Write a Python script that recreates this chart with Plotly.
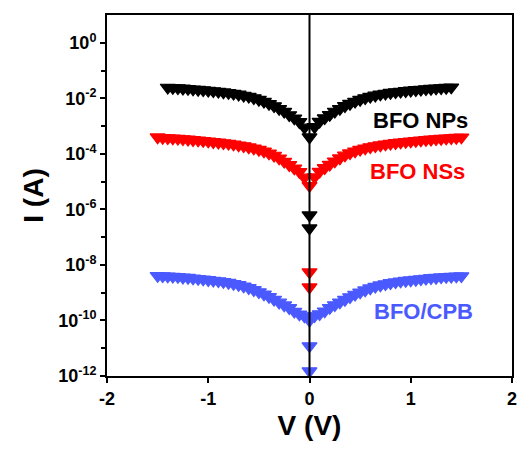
import plotly.graph_objects as go

# ---------------- data ----------------
V_np = [-1.40, -1.35, -1.30, -1.25, -1.20, -1.15, -1.10, -1.05, -1.00, -0.95,
        -0.90, -0.85, -0.80, -0.75, -0.70, -0.65, -0.60, -0.55, -0.50, -0.45,
        -0.40, -0.35, -0.30, -0.25, -0.20, -0.15, -0.10, -0.05, 0.00,
        0.05, 0.10, 0.15, 0.20, 0.25, 0.30, 0.35, 0.40, 0.45, 0.50,
        0.55, 0.60, 0.65, 0.70, 0.75, 0.80, 0.85, 0.90, 0.95, 1.00,
        1.05, 1.10, 1.15, 1.20, 1.25, 1.30, 1.35, 1.40,
        0.00, 0.00]
I_np = [2.45e-2, 2.38e-2, 2.34e-2, 2.27e-2, 2.19e-2, 2.12e-2, 2.05e-2, 1.98e-2, 1.90e-2, 1.82e-2,
        1.74e-2, 1.66e-2, 1.58e-2, 1.48e-2, 1.38e-2, 1.26e-2, 1.15e-2, 1.02e-2, 8.91e-3, 7.59e-3,
        6.31e-3, 5.25e-3, 4.17e-3, 3.31e-3, 2.51e-3, 1.91e-3, 1.41e-3, 8.91e-4, 3.98e-4,
        9.30e-4, 1.45e-3, 1.95e-3, 2.55e-3, 3.35e-3, 4.20e-3, 5.30e-3, 6.40e-3, 7.60e-3, 8.90e-3,
        1.02e-2, 1.15e-2, 1.27e-2, 1.39e-2, 1.49e-2, 1.59e-2, 1.68e-2, 1.76e-2, 1.84e-2, 1.92e-2,
        2.00e-2, 2.07e-2, 2.15e-2, 2.22e-2, 2.29e-2, 2.35e-2, 2.41e-2, 2.48e-2,
        6.2e-7, 2.1e-7]

V_ns = [-1.50, -1.45, -1.40, -1.35, -1.30, -1.25, -1.20, -1.15, -1.10, -1.05,
        -1.00, -0.95, -0.90, -0.85, -0.80, -0.75, -0.70, -0.65, -0.60, -0.55,
        -0.50, -0.45, -0.40, -0.35, -0.30, -0.25, -0.20, -0.15, -0.10, -0.05, 0.00,
        0.05, 0.10, 0.15, 0.20, 0.25, 0.30, 0.35, 0.40, 0.45, 0.50,
        0.55, 0.60, 0.65, 0.70, 0.75, 0.80, 0.85, 0.90, 0.95, 1.00,
        1.05, 1.10, 1.15, 1.20, 1.25, 1.30, 1.35, 1.40, 1.45, 1.50,
        0.00, 0.00]
I_ns = [3.98e-4, 3.80e-4, 3.72e-4, 3.63e-4, 3.55e-4, 3.39e-4, 3.31e-4, 3.16e-4, 3.09e-4, 2.95e-4,
        2.82e-4, 2.69e-4, 2.57e-4, 2.45e-4, 2.34e-4, 2.19e-4, 2.04e-4, 1.91e-4, 1.74e-4, 1.58e-4,
        1.41e-4, 1.23e-4, 1.05e-4, 8.71e-5, 6.92e-5, 5.25e-5, 3.98e-5, 3.02e-5, 2.24e-5, 1.41e-5, 7.08e-6,
        1.45e-5, 2.30e-5, 3.10e-5, 4.10e-5, 5.40e-5, 7.00e-5, 8.80e-5, 1.06e-4, 1.24e-4, 1.42e-4,
        1.59e-4, 1.75e-4, 1.91e-4, 2.05e-4, 2.20e-4, 2.35e-4, 2.47e-4, 2.59e-4, 2.71e-4, 2.83e-4,
        2.96e-4, 3.09e-4, 3.18e-4, 3.31e-4, 3.40e-4, 3.52e-4, 3.62e-4, 3.72e-4, 3.81e-4, 3.95e-4,
        5.5e-9, 1.58e-9]

V_cpb = [-1.50, -1.45, -1.40, -1.35, -1.30, -1.25, -1.20, -1.15, -1.10, -1.05,
         -1.00, -0.95, -0.90, -0.85, -0.80, -0.75, -0.70, -0.65, -0.60, -0.55,
         -0.50, -0.45, -0.40, -0.35, -0.30, -0.25, -0.20, -0.15, -0.10, -0.05, 0.00,
         0.05, 0.10, 0.15, 0.20, 0.25, 0.30, 0.35, 0.40, 0.45, 0.50,
         0.55, 0.60, 0.65, 0.70, 0.75, 0.80, 0.85, 0.90, 0.95, 1.00,
         1.05, 1.10, 1.15, 1.20, 1.25, 1.30, 1.35, 1.40, 1.45, 1.50,
         0.00, 0.00]
I_cpb = [4.07e-9, 3.98e-9, 3.89e-9, 3.80e-9, 3.72e-9, 3.55e-9, 3.47e-9, 3.31e-9, 3.16e-9, 3.02e-9,
         2.88e-9, 2.75e-9, 2.63e-9, 2.45e-9, 2.29e-9, 2.09e-9, 1.91e-9, 1.70e-9, 1.48e-9, 1.26e-9,
         1.05e-9, 8.71e-10, 7.08e-10, 5.62e-10, 4.47e-10, 3.55e-10, 2.82e-10, 2.09e-10, 1.66e-10, 1.41e-10, 1.00e-10,
         1.45e-10, 1.70e-10, 2.15e-10, 2.85e-10, 3.60e-10, 4.50e-10, 5.60e-10, 7.00e-10, 8.60e-10, 1.03e-9,
         1.23e-9, 1.45e-9, 1.66e-9, 1.86e-9, 2.04e-9, 2.24e-9, 2.40e-9, 2.57e-9, 2.70e-9, 2.82e-9,
         2.95e-9, 3.09e-9, 3.24e-9, 3.39e-9, 3.47e-9, 3.63e-9, 3.72e-9, 3.80e-9, 3.89e-9, 3.98e-9,
         1.2e-11, 1.5e-12]

series_names = ["BFO NPs", "BFO NSs", "BFO/CPB"]
series_colors = ["#000000", "#FF0000", "#4A5AFF"]

x_ticks = [-2, -1, 0, 1, 2]
y_tickvals = [1e-12, 1e-10, 1e-8, 1e-6, 1e-4, 1e-2, 1e0]
y_ticktext = ["10<sup>-12</sup>", "10<sup>-10</sup>", "10<sup>-8</sup>",
              "10<sup>-6</sup>", "10<sup>-4</sup>", "10<sup>-2</sup>", "10<sup>0</sup>"]
y_minorvals = [1e-11, 1e-9, 1e-7, 1e-5, 1e-3, 1e-1]

# label anchor positions (V, log10 I)
label_x = [1.10, 1.07, 1.13]
label_y = [-2.80, -4.65, -9.68]

FONT = "Arial, 'Liberation Sans', sans-serif"

fig = go.Figure()
for V, I, name, col in zip([V_np, V_ns, V_cpb], [I_np, I_ns, I_cpb], series_names, series_colors):
    fig.add_trace(go.Scatter(
        x=V, y=I, mode="markers", name=name,
        marker=dict(symbol="triangle-down", size=13, color=col,
                    line=dict(color=col, width=1.2)),
        showlegend=False))

fig.add_vline(x=0, line=dict(color="black", width=2))

for name, col, lx, ly in zip(series_names, series_colors, label_x, label_y):
    fig.add_annotation(x=lx, y=ly, xref="x", yref="y", text=name, showarrow=False,
                       font=dict(family=FONT, size=22, color=col, weight="bold"))

fig.update_layout(
    width=526, height=454,
    margin=dict(l=107, r=9, t=15, b=78),
    paper_bgcolor="white", plot_bgcolor="white",
    font=dict(family=FONT, color="black"),
)
fig.update_xaxes(
    range=[-2, 2], tickvals=x_ticks, ticktext=[str(v) for v in x_ticks],
    showline=True, linecolor="black", linewidth=2, mirror=True,
    ticks="outside", ticklen=5, tickwidth=2, tickcolor="black",
    showgrid=False, zeroline=False,
    tickfont=dict(family=FONT, size=18, weight="bold"),
    title=dict(text="V (V)", font=dict(family=FONT, size=28, weight="bold"), standoff=8),
)
fig.update_yaxes(
    type="log", range=[-12, 1], tickvals=y_tickvals, ticktext=y_ticktext,
    showline=True, linecolor="black", linewidth=2, mirror=True,
    ticks="outside", ticklen=5, tickwidth=2, tickcolor="black",
    minor=dict(tickvals=y_minorvals, ticks="outside", ticklen=4, tickwidth=2,
               tickcolor="black", showgrid=False),
    showgrid=False, zeroline=False,
    tickfont=dict(family=FONT, size=18, weight="bold"),
    title=dict(text="I (A)", font=dict(family=FONT, size=28, weight="bold"), standoff=6),
)

fig.write_html("out.html")
